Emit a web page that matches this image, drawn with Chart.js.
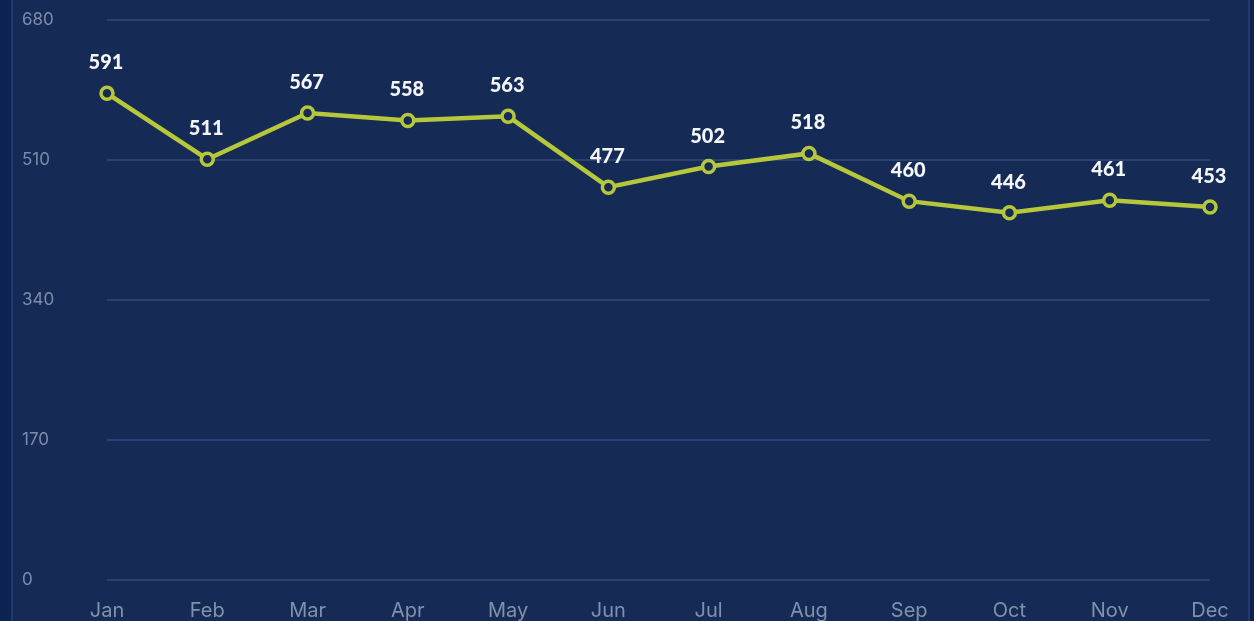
<!DOCTYPE html>
<html>
<head>
<meta charset="utf-8">
<script src="https://cdn.jsdelivr.net/npm/chart.js@4"></script>
<style>
  html, body { margin: 0; padding: 0; width: 1254px; height: 621px; overflow: hidden; background: #0c2251; }
  #card { position: absolute; left: 11px; top: -20px; width: 1235px; height: 680px; background: #152b56; border-left: 2px solid #213a68; border-right: 2px solid #213a68; }
  #wrap { position: absolute; left: 13px; top: 0; width: 1233px; height: 641px; }
</style>
</head>
<body>
<div id="card"></div>
<div id="wrap"><canvas id="c"></canvas></div>
<script>
const months = ["Jan","Feb","Mar","Apr","May","Jun","Jul","Aug","Sep","Oct","Nov","Dec"];
const values = [591, 511, 567, 558, 563, 477, 502, 518, 460, 446, 461, 453];
const yMin = 0, yMax = 680, yStep = 170;

const valueLabels = {
  id: 'valueLabels',
  afterDatasetsDraw(chart) {
    const ctx = chart.ctx;
    const meta = chart.getDatasetMeta(0);
    ctx.save();
    ctx.font = '900 20px Lato';
    ctx.fillStyle = '#f4f6fa';
    ctx.textAlign = 'center';
    ctx.textBaseline = 'alphabetic';
    meta.data.forEach((pt, i) => {
      ctx.fillText(String(chart.data.datasets[0].data[i]), pt.x - 1, pt.y - 24);
    });
    ctx.restore();
  }
};

new Chart(document.getElementById('c'), {
  type: 'line',
  data: {
    labels: months,
    datasets: [{
      data: values,
      borderColor: '#b7c73b',
      borderWidth: 4.5,
      pointRadius: 6,
      pointHoverRadius: 6,
      pointBorderWidth: 3.5,
      pointBorderColor: '#b7c73b',
      pointBackgroundColor: '#152b56',
      tension: 0,
      fill: false
    }]
  },
  options: {
    responsive: true,
    maintainAspectRatio: false,
    animation: false,
    layout: { autoPadding: false, padding: { left: 9, right: 36, top: 20, bottom: 0 } },
    plugins: { legend: { display: false }, tooltip: { enabled: false } },
    scales: {
      x: {
        offset: false,
        grid: { display: false, drawTicks: false },
        border: { display: false },
        ticks: { color: '#8190ad', font: { family: 'Inter', size: 20 }, padding: 19, maxRotation: 0, autoSkip: false },
        afterFit(s) { s.height = 61; s.paddingLeft = 0; s.paddingRight = 0; }
      },
      y: {
        min: yMin, max: yMax,
        grid: { color: '#2a4271', lineWidth: 2, drawTicks: false },
        border: { display: false },
        ticks: { stepSize: yStep, color: '#7d8cab', font: { family: 'Inter', size: 17 }, crossAlign: 'far', padding: 0 },
        afterFit(s) { s.width = 85; }
      }
    }
  },
  plugins: [valueLabels]
});
</script>
</body>
</html>
